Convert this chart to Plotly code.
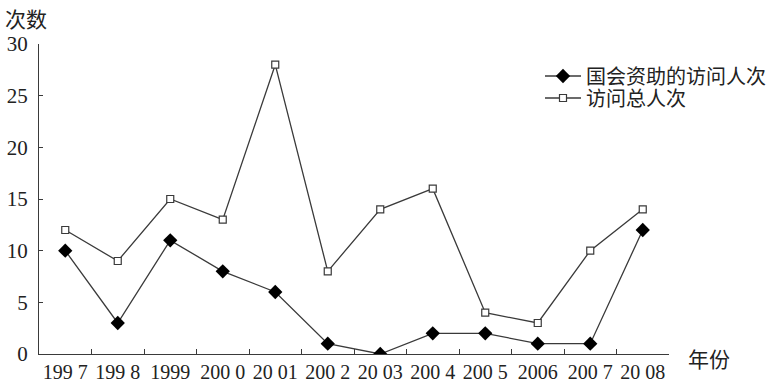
import plotly.graph_objects as go

years = ["199 7", "199 8", "1999", "200 0", "20 01", "200 2", "20 03",
         "200 4", "200 5", "2006", "200 7", "20 08"]
funded = [10, 3, 11, 8, 6, 1, 0, 2, 2, 1, 1, 12]
total = [12, 9, 15, 13, 28, 8, 14, 16, 4, 3, 10, 14]
y_ticks = [0, 5, 10, 15, 20, 25, 30]

FONT = "Liberation Serif, Noto Sans CJK SC, serif"
LINE = "#3a3a3a"
TXT = "#222222"

fig = go.Figure()
fig.add_trace(go.Scatter(
    x=years, y=funded, mode="lines+markers", name="国会资助的访问人次",
    legend="legend",
    line=dict(color=LINE, width=1.3),
    marker=dict(symbol="diamond", size=11, color="#000000",
                line=dict(color="#000000", width=0)),
))
fig.add_trace(go.Scatter(
    x=years, y=total, mode="lines+markers", name="访问总人次",
    legend="legend2",
    line=dict(color=LINE, width=1.3),
    marker=dict(symbol="square", size=7, color="#ffffff",
                line=dict(color=LINE, width=1.2)),
))

def px_x(p):
    return (p - 39) / 630

def px_y(p):
    return (354 - p) / 310

legend_common = dict(xanchor="left", yanchor="middle", bgcolor="rgba(0,0,0,0)",
                     font=dict(family=FONT, size=20, color=TXT), itemwidth=36)

fig.update_layout(
    width=774, height=383,
    margin=dict(l=39, r=105, t=44, b=29, autoexpand=False),
    paper_bgcolor="white", plot_bgcolor="white",
    font=dict(family=FONT, size=18, color=TXT),
    showlegend=True,
    legend=dict(x=px_x(540), y=px_y(76), **legend_common),
    legend2=dict(x=px_x(540), y=px_y(98), **legend_common),
    xaxis=dict(
        type="category", range=[-0.5, 11.5], automargin=False, tickangle=0,
        showline=True, linecolor=LINE, linewidth=1.3,
        ticks="inside", ticklen=5, tickcolor=LINE, tickson="boundaries",
        showgrid=False, zeroline=False,
        tickfont=dict(family=FONT, size=20, color=TXT),
    ),
    yaxis=dict(
        range=[0, 30], tickvals=y_ticks, automargin=False,
        showline=True, linecolor=LINE, linewidth=1.3,
        ticks="inside", ticklen=4, tickcolor=LINE,
        showgrid=False, zeroline=False, ticklabelstandoff=6,
        tickfont=dict(family=FONT, size=21, color=TXT),
    ),
    annotations=[
        dict(text="次数", xref="paper", yref="paper",
             x=px_x(3), y=px_y(20), xanchor="left", yanchor="middle",
             showarrow=False, font=dict(family=FONT, size=21, color=TXT)),
        dict(text="年份", xref="paper", yref="paper",
             x=px_x(686), y=px_y(360), xanchor="left", yanchor="middle",
             showarrow=False, font=dict(family=FONT, size=21, color=TXT)),
    ],
)

fig.write_html("out.html", config={"displayModeBar": False},
               post_script="document.body.style.margin='0';document.body.style.overflow='hidden';")
